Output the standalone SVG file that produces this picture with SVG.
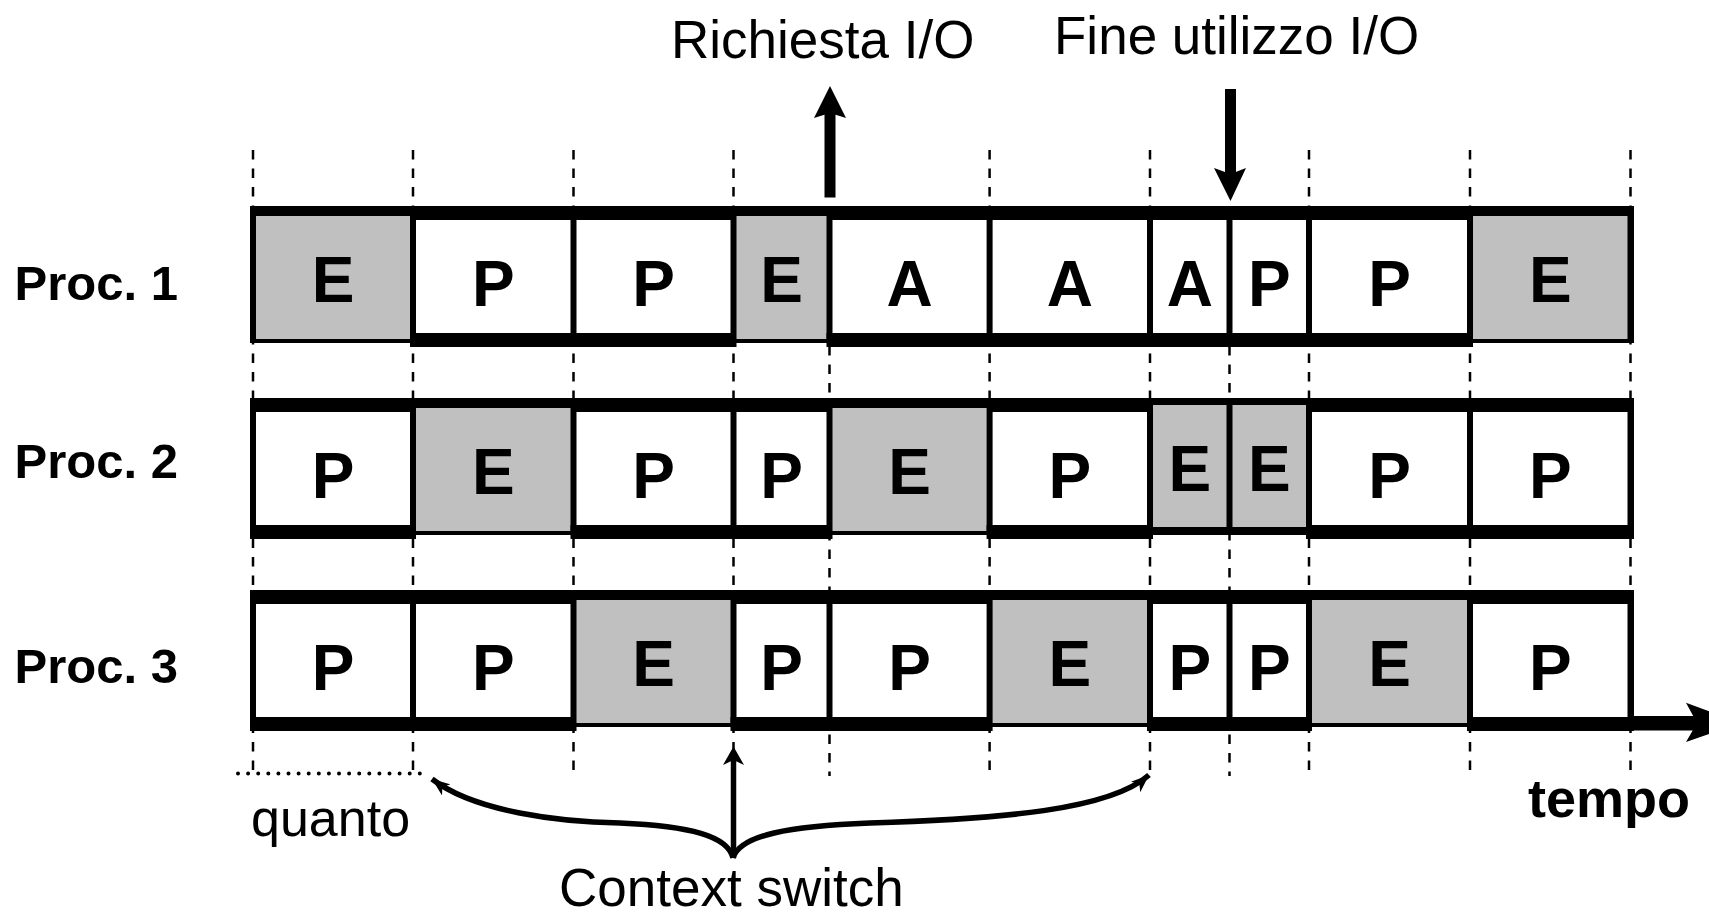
<svg xmlns="http://www.w3.org/2000/svg" width="1709" height="918" viewBox="0 0 1709 918">
<defs>
<style>
.frame{fill:#000}
.w{fill:#fff}
.g{fill:#c0c0c0}
.bk{fill:#000}
.cl{font-family:"Liberation Sans",Arial,sans-serif;font-weight:bold;font-size:64px;text-anchor:middle;fill:#000}
.lbl{font-family:"Liberation Sans",Arial,sans-serif;font-weight:bold;font-size:49px;fill:#000}
.txt{font-family:"Liberation Sans",Arial,sans-serif;font-size:53px;fill:#000}
.dash{stroke:#000;stroke-width:2.5;stroke-dasharray:9.5 9;fill:none}
</style>
<marker id="head" viewBox="0 0 20 14" markerWidth="20" markerHeight="14" refX="18" refY="7" orient="auto" markerUnits="userSpaceOnUse">
<path d="M0,0 L18,7 L0,14 L5,7 z" fill="#000"/>
</marker>
</defs>
<rect width="1709" height="918" fill="#fff"/>

<g id="grid">
<line class="dash" x1="253" y1="150" x2="253" y2="776"/>
<line class="dash" x1="413" y1="150" x2="413" y2="776"/>
<line class="dash" x1="573.5" y1="150" x2="573.5" y2="776"/>
<line class="dash" x1="733.5" y1="150" x2="733.5" y2="776"/>
<line class="dash" x1="829.5" y1="346" x2="829.5" y2="776"/>
<line class="dash" x1="989.6" y1="150" x2="989.6" y2="776"/>
<line class="dash" x1="1150" y1="150" x2="1150" y2="776"/>
<line class="dash" x1="1229.5" y1="346" x2="1229.5" y2="776"/>
<line class="dash" x1="1309" y1="150" x2="1309" y2="776"/>
<line class="dash" x1="1470" y1="150" x2="1470" y2="776"/>
<line class="dash" x1="1630.5" y1="150" x2="1630.5" y2="776"/>
</g>

<g id="proc1">
<rect class="frame" x="250" y="206" width="1384" height="137"/>
<rect class="g" x="256" y="216" width="154" height="123"/>
<rect class="w" x="416" y="220" width="154.5" height="113"/>
<rect class="bk" x="410" y="333" width="166.5" height="14"/>
<rect class="w" x="576.5" y="220" width="154" height="113"/>
<rect class="bk" x="570.5" y="333" width="166" height="14"/>
<rect class="g" x="736.5" y="216" width="90" height="123"/>
<rect class="w" x="832.5" y="220" width="154.1" height="113"/>
<rect class="bk" x="826.5" y="333" width="166.1" height="14"/>
<rect class="w" x="992.6" y="220" width="154.4" height="113"/>
<rect class="bk" x="986.6" y="333" width="166.4" height="14"/>
<rect class="w" x="1153" y="220" width="73.5" height="113"/>
<rect class="bk" x="1147" y="333" width="85.5" height="14"/>
<rect class="w" x="1232.5" y="220" width="73.5" height="113"/>
<rect class="bk" x="1226.5" y="333" width="85.5" height="14"/>
<rect class="w" x="1312" y="220" width="155" height="113"/>
<rect class="bk" x="1306" y="333" width="167" height="14"/>
<rect class="g" x="1473" y="216" width="154.5" height="123"/>
<text class="cl" x="333" y="302">E</text>
<text class="cl" x="493.25" y="305.5">P</text>
<text class="cl" x="653.5" y="305.5">P</text>
<text class="cl" x="781.5" y="302">E</text>
<text class="cl" x="909.55" y="305.5">A</text>
<text class="cl" x="1069.8" y="305.5">A</text>
<text class="cl" x="1189.75" y="305.5">A</text>
<text class="cl" x="1269.25" y="305.5">P</text>
<text class="cl" x="1389.5" y="305.5">P</text>
<text class="cl" x="1550.25" y="302">E</text>
<text class="lbl" x="14.6" y="300">Proc. 1</text>
</g>

<g id="proc2">
<rect class="frame" x="250" y="398" width="1384" height="137"/>
<rect class="w" x="256" y="412" width="154" height="113"/>
<rect class="bk" x="250" y="525" width="166" height="14"/>
<rect class="g" x="416" y="408" width="154.5" height="123"/>
<rect class="w" x="576.5" y="412" width="154" height="113"/>
<rect class="bk" x="570.5" y="525" width="166" height="14"/>
<rect class="w" x="736.5" y="412" width="90" height="113"/>
<rect class="bk" x="730.5" y="525" width="102" height="14"/>
<rect class="g" x="832.5" y="408" width="154.1" height="123"/>
<rect class="w" x="992.6" y="412" width="154.4" height="113"/>
<rect class="bk" x="986.6" y="525" width="166.4" height="14"/>
<rect class="g" x="1153" y="405" width="73.5" height="122"/>
<rect class="g" x="1232.5" y="405" width="73.5" height="122"/>
<rect class="w" x="1312" y="412" width="155" height="113"/>
<rect class="bk" x="1306" y="525" width="167" height="14"/>
<rect class="w" x="1473" y="412" width="154.5" height="113"/>
<rect class="bk" x="1467" y="525" width="167" height="14"/>
<text class="cl" x="333" y="497.5">P</text>
<text class="cl" x="493.25" y="494">E</text>
<text class="cl" x="653.5" y="497.5">P</text>
<text class="cl" x="781.5" y="497.5">P</text>
<text class="cl" x="909.55" y="494">E</text>
<text class="cl" x="1069.8" y="497.5">P</text>
<text class="cl" x="1189.75" y="491">E</text>
<text class="cl" x="1269.25" y="491">E</text>
<text class="cl" x="1389.5" y="497.5">P</text>
<text class="cl" x="1550.25" y="497.5">P</text>
<text class="lbl" x="14.6" y="478">Proc. 2</text>
</g>

<g id="proc3">
<rect class="frame" x="250" y="590" width="1384" height="137"/>
<rect class="w" x="256" y="604" width="154" height="113"/>
<rect class="bk" x="250" y="717" width="166" height="14"/>
<rect class="w" x="416" y="604" width="154.5" height="113"/>
<rect class="bk" x="410" y="717" width="166.5" height="14"/>
<rect class="g" x="576.5" y="600" width="154" height="123"/>
<rect class="w" x="736.5" y="604" width="90" height="113"/>
<rect class="bk" x="730.5" y="717" width="102" height="14"/>
<rect class="w" x="832.5" y="604" width="154.1" height="113"/>
<rect class="bk" x="826.5" y="717" width="166.1" height="14"/>
<rect class="g" x="992.6" y="600" width="154.4" height="123"/>
<rect class="w" x="1153" y="604" width="73.5" height="113"/>
<rect class="bk" x="1147" y="717" width="85.5" height="14"/>
<rect class="w" x="1232.5" y="604" width="73.5" height="113"/>
<rect class="bk" x="1226.5" y="717" width="85.5" height="14"/>
<rect class="g" x="1312" y="600" width="155" height="123"/>
<rect class="w" x="1473" y="604" width="154.5" height="113"/>
<rect class="bk" x="1467" y="717" width="167" height="14"/>
<text class="cl" x="333" y="689.5">P</text>
<text class="cl" x="493.25" y="689.5">P</text>
<text class="cl" x="653.5" y="686">E</text>
<text class="cl" x="781.5" y="689.5">P</text>
<text class="cl" x="909.55" y="689.5">P</text>
<text class="cl" x="1069.8" y="686">E</text>
<text class="cl" x="1189.75" y="689.5">P</text>
<text class="cl" x="1269.25" y="689.5">P</text>
<text class="cl" x="1389.5" y="686">E</text>
<text class="cl" x="1550.25" y="689.5">P</text>
<text class="lbl" x="14.6" y="683">Proc. 3</text>
</g>

<g id="connectors">
<rect x="824.5" y="110" width="11" height="87.5" fill="#000"/>
<polygon points="830,86 846,118 830,113 814,118" fill="#000"/>
<rect x="1225" y="89" width="11" height="86" fill="#000"/>
<polygon points="1214,168 1230.5,174 1246,168 1230.5,201" fill="#000"/>
<rect x="1630" y="716" width="70" height="14.5" fill="#000"/>
<polygon points="1686,702.7 1740,723 1686,742 1697,723" fill="#000"/>
<line x1="733.5" y1="858" x2="733.5" y2="758" stroke="#000" stroke-width="5.5"/>
<polygon points="733.5,746.5 744,765 733.5,760 723,765" fill="#000"/>
<path d="M733,858 C728,836 690,826 620,823 C560,822 475,812 432,779" fill="none" stroke="#000" stroke-width="5.5" marker-end="url(#head)"/>
<path d="M733,858 C740,835 790,826 870,823 C1000,819 1110,810 1149,775" fill="none" stroke="#000" stroke-width="5.5" marker-end="url(#head)"/>
<line x1="238" y1="773.5" x2="420" y2="773.5" stroke="#000" stroke-width="4" stroke-linecap="round" stroke-dasharray="0 10.1"/>
</g>

<g id="labels">
<text class="txt" x="671" y="58">Richiesta I/O</text>
<text class="txt" x="1054" y="54">Fine utilizzo I/O</text>
<text class="txt" x="251" y="836" style="font-size:52px">quanto</text>
<text class="txt" x="559" y="906">Context switch</text>
<text style="font-family:'Liberation Sans',Arial,sans-serif;font-size:54px;font-weight:bold;text-anchor:end" x="1690" y="817">tempo</text>
</g>
</svg>
